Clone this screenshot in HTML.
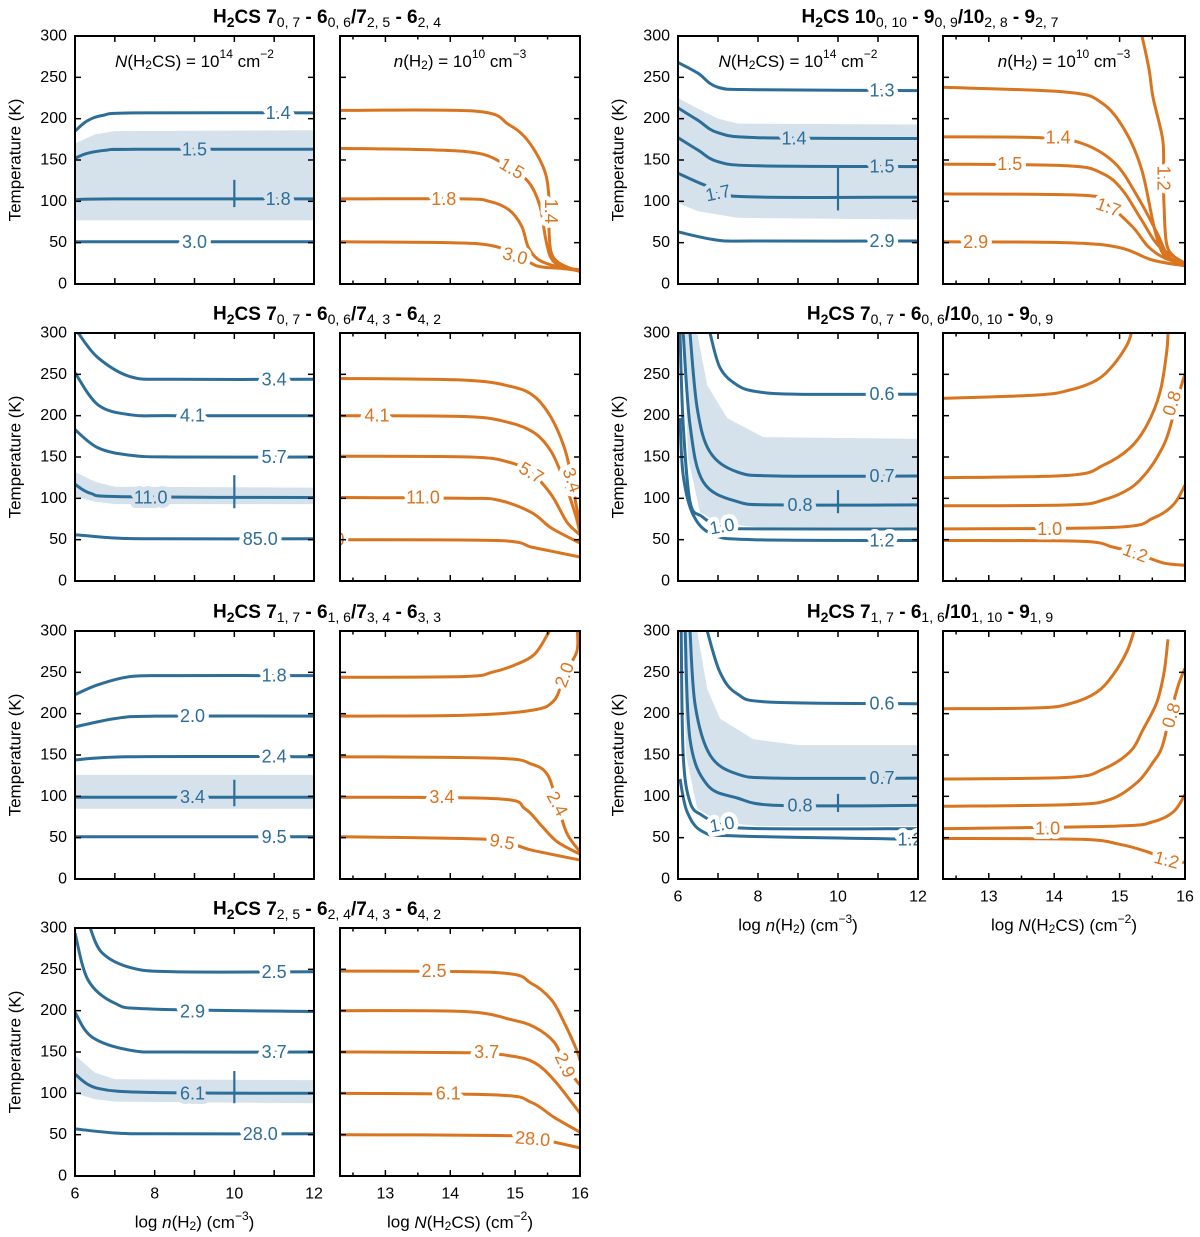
<!DOCTYPE html>
<html><head><meta charset="utf-8">
<style>
html,body{margin:0;padding:0;background:#fff;}
svg{display:block;font-family:"Liberation Sans","DejaVu Sans",sans-serif;}
</style></head>
<body>
<svg id="chart" width="1200" height="1237" viewBox="0 0 1200 1237" xmlns="http://www.w3.org/2000/svg"></svg>
<script>
const BLUE='#2d6e98', ORANGE='#d9741f', BAND='#d5e2ec';
// ---------- data (x = log n or log N, T in K) ----------
const yTicks=[0,50,100,150,200,250,300];
const nTicks=[6,8,10,12];
const NTicks=[13,14,15,16];
const titles=[
 ['7','0, 7','6','0, 6','7','2, 5','6','2, 4'],
 ['10','0, 10','9','0, 9','10','2, 8','9','2, 7'],
 ['7','0, 7','6','0, 6','7','4, 3','6','4, 2'],
 ['7','0, 7','6','0, 6','10','0, 10','9','0, 9'],
 ['7','1, 7','6','1, 6','7','3, 4','6','3, 3'],
 ['7','1, 7','6','1, 6','10','1, 10','9','1, 9'],
 ['7','2, 5','6','2, 4','7','4, 3','6','4, 2']
];
// Panel A (row1 left)
const A_blue=[
 {v:'1.4',p:[[6,185],[6.3,197],[6.7,204],[7.5,207],[12,207]],l:[11.1,207,0]},
 {v:'1.5',p:[[6,152],[6.3,158],[6.8,162],[7.5,163],[12,163]],l:[9,163,0,1]},
 {v:'1.8',p:[[6,102],[7,103],[12,103]],l:[11.1,103,0,1]},
 {v:'3.0',p:[[6,51],[12,51]],l:[9,51,0]}];
const A_band_hi=[[6,170],[6.5,181],[7,185],[12,186]];
const A_band_lo=[[6,77],[12,77]];
const A_marker=[10,93,126,103];
const A_orange=[
 {v:'1.4',p:[[12.3,210],[14.4,209],[14.9,193],[15.2,173],[15.45,138],[15.52,105],[15.52,70],[15.55,40],[15.65,27],[15.85,19],[16,15]],l:[15.55,88,90]},
 {v:'1.5',p:[[12.3,164],[13.8,162],[14.5,157],[14.9,141],[15.2,124],[15.38,95],[15.47,55],[15.55,32],[15.7,22],[16,16]],l:[14.95,140,30]},
 {v:'1.8',p:[[12.3,103],[14.2,103],[14.6,100],[14.9,90],[15.1,70],[15.2,45],[15.35,30],[15.6,22],[16,17]],l:[13.9,103,0]},
 {v:'3.0',p:[[12.3,51],[14,50],[14.6,47],[15,37],[15.33,22],[15.7,19],[16,16]],l:[15.0,34,15]}];
// Panel B (row1 right)
const B_blue=[
 {v:'1.3',p:[[6,268],[6.5,255],[7,238],[8,235],[12,234]],l:[11.1,234,0]},
 {v:'1.4',p:[[6,213],[6.5,198],[7,183],[8,177],[12,176]],l:[8.9,176,0,1]},
 {v:'1.5',p:[[6,177],[6.5,162],[7,148],[8,143],[12,142]],l:[11.1,142,0,1]},
 {v:'1.7',p:[[6,134],[6.7,119],[7.5,106],[12,105]],l:[7,110,-12,1]},
 {v:'2.9',p:[[6,63],[7,53],[8,52],[12,52]],l:[11.1,52,0]}];
const B_band_hi=[[6,225],[6.5,212],[7,200],[7.5,194],[12,193]];
const B_band_lo=[[6,98],[6.5,88],[7.5,80],[12,78]];
const B_marker=[10,89,141,105];
const B_orange=[
 {v:'1.2',p:[[15.34,301],[15.45,260],[15.51,226],[15.66,174],[15.67,130],[15.68,93],[15.72,48],[15.85,32],[16,25]],l:[15.67,128,90]},
 {v:'',p:[[12.3,238],[14.2,232],[14.73,219],[15.08,186],[15.34,138],[15.54,65],[15.7,33],[16,25]],l:null},
 {v:'1.4',p:[[12.3,178],[13.8,177],[14.43,170],[14.93,146],[15.28,105],[15.57,62],[15.75,33],[16,25]],l:[14.06,177,0]},
 {v:'1.5',p:[[12.3,145],[14.2,143],[14.73,134],[15.04,114],[15.34,77],[15.6,46],[16,25]],l:[13.32,145,0]},
 {v:'1.7',p:[[12.3,109],[14.5,107],[14.83,95],[15.2,69],[15.44,45],[15.7,31],[16,25]],l:[14.83,93,20]},
 {v:'2.9',p:[[12.3,51],[14.2,50],[15,44],[15.5,29],[16,22]],l:[12.8,51,0]}];
// Panel C (row2 left)
const C_blue=[
 {v:'3.4',p:[[6.08,300],[6.58,270],[7.4,247],[8.5,244],[12,244]],l:[11,244,0]},
 {v:'4.1',p:[[6,252],[6.58,213],[7.4,201],[8.5,200],[12,200]],l:[8.95,200,0]},
 {v:'5.7',p:[[6,183],[6.58,161],[7.4,152],[8.5,150],[12,150]],l:[11,150,0]},
 {v:'11.0',p:[[6,117],[6.4,106],[7.2,102],[12,101]],l:[7.9,101,0,1]},
 {v:'85.0',p:[[6,56],[7,52],[8,51],[12,51]],l:[10.65,51,0]}];
const C_band_hi=[[6,132],[6.5,120],[7,114],[12,113]];
const C_band_lo=[[6,102],[6.5,96],[7,93],[12,93]];
const C_marker=[10,88,128,101];
const C_orange=[
 {v:'3.4',p:[[12.3,245],[14.22,243],[14.95,235],[15.3,223],[15.56,197],[15.76,161],[15.87,125],[15.93,96],[16,71]],l:[15.88,122,70]},
 {v:'4.1',p:[[12.3,200],[14.22,199],[14.89,192],[15.3,179],[15.56,156],[15.76,120],[15.93,80],[16,58]],l:[12.87,200,0]},
 {v:'5.7',p:[[12.3,151],[14.3,150],[14.89,144],[15.25,131],[15.56,104],[15.8,71],[16,56]],l:[15.25,131,30]},
 {v:'11.0',p:[[12.3,101],[14.2,100],[14.73,98],[15.25,83],[15.56,64],[16,46]],l:[13.58,101,0]},
 {v:'85.0',p:[[12.3,50],[14.73,49],[15.25,41],[15.56,36],[16,29]],l:[12.1,50,0]}];
// Panel D (row2 right)
const D_blue=[
 {v:'0.6',p:[[6.8,300],[7.05,258],[7.48,237],[7.98,229],[9,226],[12,226]],l:[11.1,226,0]},
 {v:'0.7',p:[[6.3,300],[6.48,209],[6.8,156],[7.48,132],[8.5,127],[12,127]],l:[11.1,127,0,1]},
 {v:'0.8',p:[[6.13,300],[6.3,189],[6.63,120],[7.48,96],[8.5,92],[12,92]],l:[9.05,92,0,1]},
 {v:'1.0',p:[[6.05,300],[6.13,189],[6.3,96],[6.6,78],[7.1,65],[8,63],[12,63]],l:[7.1,66,-10]},
 {v:'1.2',p:[[6.05,197],[6.13,128],[6.38,80],[6.88,56],[7.9,50],[12,49]],l:[11.1,49,0]}];
const D_band_hi=[[6.48,300],[6.73,237],[7.23,197],[8.13,174],[12,172]];
const D_band_lo=[[6.15,300],[6.25,149],[6.55,83],[7.05,70],[8,65],[12,65]];
const D_marker=[10,82,110,92];
const D_orange=[
 {v:'',p:[[12.3,221],[13.74,225],[14.24,231],[14.65,243],[14.9,261],[15.11,285],[15.18,300]],l:null},
 {v:'0.8',p:[[12.3,125],[14.24,128],[14.75,140],[15.16,161],[15.42,189],[15.62,229],[15.72,277],[15.74,300]],l:[15.8,215,-72]},
 {v:'',p:[[12.3,91],[14.24,92],[14.75,98],[15.16,112],[15.42,132],[15.62,156],[15.75,180],[15.9,225],[16,250]],l:null},
 {v:'1.0',p:[[12.3,63],[14.95,65],[15.51,76],[15.82,92],[16,116]],l:[13.93,63,0]},
 {v:'1.2',p:[[12.3,49],[14.4,48],[14.9,41],[15.24,34],[15.66,22],[16,19]],l:[15.24,34,20]}];
// Panel E (row3 left)
const E_blue=[
 {v:'1.8',p:[[6,223],[6.58,235],[7.4,245],[8.5,246],[12,246]],l:[11,246,0]},
 {v:'2.0',p:[[6,184],[7,194],[8,197],[12,197]],l:[8.95,197,0]},
 {v:'2.4',p:[[6,144],[7.4,148],[12,148]],l:[11,148,0]},
 {v:'3.4',p:[[6,99],[12,99]],l:[8.95,99,0,1]},
 {v:'9.5',p:[[6,51],[12,51]],l:[11,51,0]}];
const E_band_hi=[[6,126],[12,126]];
const E_band_lo=[[6,85],[12,85]];
const E_marker=[10,88,120,99];
const E_orange=[
 {v:'',p:[[12.3,244],[14.22,245],[14.64,250],[15,259],[15.3,272],[15.5,296],[15.52,300]],l:null},
 {v:'2.0',p:[[12.3,197],[14.22,198],[15.25,204],[15.6,216],[15.76,247],[15.95,275],[15.96,300]],l:[15.76,247,-70]},
 {v:'2.4',p:[[12.3,148],[14.73,146],[15.25,139],[15.5,126],[15.65,91],[15.8,55],[16,33]],l:[15.65,91,62]},
 {v:'3.4',p:[[12.3,99],[14.73,97],[15.15,85],[15.4,65],[15.65,45],[16,30]],l:[13.87,99,0]},
 {v:'9.5',p:[[12.3,51],[14.2,49],[14.8,46],[15.25,35],[16,23]],l:[14.8,45,10]}];
// Panel F (row3 right)
const F_blue=[
 {v:'0.6',p:[[6.73,300],[7.05,250],[7.48,224],[8.3,214],[12,212]],l:[11.1,212,0]},
 {v:'0.7',p:[[6.3,300],[6.43,210],[6.8,150],[7.48,127],[8.5,122],[12,122]],l:[11.1,122,0,1]},
 {v:'0.8',p:[[6.18,300],[6.3,169],[6.73,114],[7.48,98],[8.5,89],[12,89]],l:[9.05,89,0,1]},
 {v:'1.0',p:[[6.08,300],[6.13,150],[6.3,93],[6.6,77],[7.1,66],[8,61],[12,61]],l:[7.1,66,-10]},
 {v:'1.2',p:[[6.05,121],[6.23,81],[6.63,57],[7.5,52],[12,48]],l:[11.8,48,0]}];
const F_band_hi=[[6.48,300],[6.73,230],[7.05,194],[7.88,169],[9,162],[12,162]];
const F_band_lo=[[6.13,300],[6.2,150],[6.48,85],[7.05,69],[8,64],[12,64]];
const F_marker=[10,81,103,89];
const F_orange=[
 {v:'',p:[[12.3,206],[13.74,207],[14.24,212],[14.65,226],[14.9,247],[15.11,275],[15.22,300]],l:null},
 {v:'',p:[[12.3,121],[14.24,123],[14.75,133],[15.16,154],[15.36,181],[15.57,214],[15.68,250],[15.74,290]],l:null},
 {v:'0.8',p:[[12.3,88],[14.24,90],[14.85,96],[15.27,117],[15.51,141],[15.65,160],[15.77,198],[15.9,235],[16,255]],l:[15.79,198,-72]},
 {v:'1.0',p:[[12.3,61],[14.95,64],[15.5,69],[15.82,81],[16,102]],l:[13.9,61,0]},
 {v:'1.2',p:[[12.3,49],[14.4,48],[15,42],[15.42,33],[15.72,24],[16,20]],l:[15.72,23,15]}];
// Panel G (row4 left)
const G_blue=[
 {v:'2.5',p:[[6.38,300],[6.68,270],[7.4,252],[8.5,247],[12,247]],l:[11,247,0]},
 {v:'2.9',p:[[6,294],[6.33,237],[7,209],[7.9,202],[12,199]],l:[8.95,199,0]},
 {v:'3.7',p:[[6,198],[6.43,168],[7.4,152],[8.5,150],[12,150]],l:[11,150,0]},
 {v:'6.1',p:[[6,123],[6.58,106],[8,101],[12,100]],l:[8.95,100,0,1]},
 {v:'28.0',p:[[6,57],[7,52],[8,51],[12,51]],l:[10.65,51,0]}];
const G_band_hi=[[6,146],[6.5,125],[7,117],[12,116]];
const G_band_lo=[[6,100],[6.5,93],[7,90],[12,88]];
const G_marker=[10,88,127,100];
const G_orange=[
 {v:'2.5',p:[[12.3,248],[14.73,246],[15.25,233],[15.56,213],[15.76,185],[15.95,152],[16,140]],l:[13.75,248,0]},
 {v:'2.9',p:[[12.3,200],[14.22,199],[14.95,189],[15.3,180],[15.6,162],[15.76,137],[15.92,118],[16,110]],l:[15.77,134,65]},
 {v:'3.7',p:[[12.3,150],[14.3,149],[14.95,145],[15.3,137],[15.6,116],[16,76]],l:[14.56,150,0]},
 {v:'6.1',p:[[12.3,100],[14.73,98],[15.25,89],[15.6,71],[16,53]],l:[13.97,100,0]},
 {v:'28.0',p:[[12.3,50],[14.73,49],[15.27,46],[16,34]],l:[15.27,45,5]}];

// ---------- layout ----------
const svg=document.getElementById('chart');
const NS='http://www.w3.org/2000/svg';
function el(tag,attrs,parent){const e=document.createElementNS(NS,tag);for(const k in attrs)e.setAttribute(k,attrs[k]);(parent||svg).appendChild(e);return e;}
const rowsY=[36,333,631,928], H=248;
const colL={bx:75,bw:239,ox:340,ow:240,cx:327};
const colR={bx:678,bw:240,ox:943,ow:242,cx:930};
let clipId=0;
function smooth(pts){
  if(pts.length<3)return 'M'+pts.map(p=>p[0].toFixed(1)+','+p[1].toFixed(1)).join('L');
  let d='M'+pts[0][0].toFixed(1)+','+pts[0][1].toFixed(1);
  for(let i=0;i<pts.length-1;i++){
    const p0=pts[i-1]||pts[i],p1=pts[i],p2=pts[i+1],p3=pts[i+2]||p2;
    const c1=[p1[0]+(p2[0]-p0[0])/6,p1[1]+(p2[1]-p0[1])/6];
    const c2=[p2[0]-(p3[0]-p1[0])/6,p2[1]-(p3[1]-p1[1])/6];
    d+='C'+c1[0].toFixed(1)+','+c1[1].toFixed(1)+' '+c2[0].toFixed(1)+','+c2[1].toFixed(1)+' '+p2[0].toFixed(1)+','+p2[1].toFixed(1);
  }
  return d;
}
function panel(x0,y0,w,dom,lines,color,kind,opts){
  const g=el('g',{});
  
  
  const sx=v=>x0+(v-dom[0])/(dom[1]-dom[0])*w;
  const sy=t=>y0+H-t/300*H;
  const id='c'+(clipId++);
  const cp=el('clipPath',{id:id},g);el('rect',{x:x0,y:y0,width:w,height:H},cp);
  const inner=el('g',{'clip-path':'url(#'+id+')'},g);
  if(opts.hi){
    const poly=opts.hi.map(p=>[sx(p[0]),sy(p[1])]).concat(opts.lo.slice().reverse().map(p=>[sx(p[0]),sy(p[1])]));
    const b=el('polygon',{points:poly.map(p=>p.join(',')).join(' '),fill:BAND,stroke:'none'},inner);
    
    
  }
  lines.forEach(L=>{
    const path=el('path',{d:smooth(L.p.map(p=>[sx(p[0]),sy(p[1])])),fill:'none',stroke:color,'stroke-width':3,'stroke-linejoin':'round'},inner);
    
    
  });
  if(opts.m){
    const m=opts.m;
    const t1=el('line',{x1:sx(m[0]),x2:sx(m[0]),y1:sy(m[1]),y2:sy(m[2]),stroke:color,'stroke-width':2.2},inner);
    
    
  }
  lines.forEach(L=>{
    if(!L.l)return;
    const X=sx(L.l[0]),Y=sy(L.l[1]);
    const t=el('text',{x:X,y:Y,'text-anchor':'middle','dominant-baseline':'central','font-size':18,fill:color,stroke:L.l[3]?BAND:'#fff','stroke-width':9,'paint-order':'stroke','stroke-linejoin':'round',transform:'rotate('+L.l[2]+' '+X+' '+Y+')'},inner);
    t.textContent=L.v;
    
    
  });
  const fr=el('rect',{x:x0,y:y0,width:w,height:H,fill:'none',stroke:'#000','stroke-width':2},g);
  
  
  const tk=el('g',{stroke:'#000','stroke-width':1.5},g);
  yTicks.forEach(t=>{
    if(t===0||t===300)return;
    el('line',{x1:x0,x2:x0+6,y1:sy(t),y2:sy(t)},tk);
    el('line',{x1:x0+w,x2:x0+w-6,y1:sy(t),y2:sy(t)},tk);
  });
  const xt=[];
  if(kind==='blue'){for(let v=7;v<=11;v++)xt.push([v,6]);}
  else{for(let v=12.5;v<16;v+=0.5)xt.push([v,Number.isInteger(v)?6:3.5]);}
  xt.forEach(([v,len])=>{
    el('line',{x1:sx(v),x2:sx(v),y1:y0+H,y2:y0+H-len},tk);
    el('line',{x1:sx(v),x2:sx(v),y1:y0,y2:y0+len},tk);
  });
  if(kind==='blue'){
    yTicks.forEach(t=>{
      const tx=el('text',{x:x0-8,y:sy(t),'text-anchor':'end','dominant-baseline':'central','font-size':16},g);
      tx.textContent=t;
      
      
    });
    const yl=el('text',{x:x0-60,y:y0+H/2,'text-anchor':'middle','dominant-baseline':'central','font-size':17,transform:'rotate(-90 '+(x0-60)+' '+(y0+H/2)+')'},g);
    yl.textContent='Temperature (K)';
    
    
  }
  if(opts.bottom){
    (kind==='blue'?nTicks:NTicks).forEach(v=>{
      const tx=el('text',{x:sx(v),y:y0+H+18,'text-anchor':'middle','font-size':16,'dominant-baseline':'central'},g);
      tx.textContent=v;
      
      
    });
    const xl=el('text',{x:x0+w/2,y:y0+H+46,'text-anchor':'middle','font-size':17,'dominant-baseline':'central'},g);
    xl.innerHTML=kind==='blue'?'log <tspan font-style="italic">n</tspan>(H<tspan font-size="12" dy="4">2</tspan><tspan dy="-4">) (cm</tspan><tspan font-size="12" dy="-6">−3</tspan><tspan dy="6">)</tspan>'
      :'log <tspan font-style="italic">N</tspan>(H<tspan font-size="12" dy="4">2</tspan><tspan dy="-4">CS) (cm</tspan><tspan font-size="12" dy="-6">−2</tspan><tspan dy="6">)</tspan>';
    
    
  }
  if(opts.note){
    const nt=el('text',{x:x0+w/2,y:y0+25,'text-anchor':'middle','font-size':17,'dominant-baseline':'central'},g);
    nt.innerHTML=opts.note;
    
    
  }
}
function title(cx,y,t){
  const tt=el('text',{x:cx,y:y,'text-anchor':'middle','font-size':19,'font-weight':'bold','dominant-baseline':'central'});
  const sub=s=>'<tspan font-size="14" font-weight="normal" dy="5">'+s+'</tspan><tspan dy="-5">';
  tt.innerHTML='H<tspan font-size="14" dy="5">2</tspan><tspan dy="-5">CS '+t[0]+'</tspan>'+sub(t[1])+' - '+t[2]+'</tspan>'+sub(t[3])+'/'+t[4]+'</tspan>'+sub(t[5])+' - '+t[6]+'</tspan>'+sub(t[7])+'</tspan>';
  
  
}
const noteN='<tspan font-style="italic">N</tspan>(H<tspan font-size="12" dy="4">2</tspan><tspan dy="-4">CS) = 10</tspan><tspan font-size="12" dy="-7">14</tspan><tspan dy="7"> cm</tspan><tspan font-size="12" dy="-7">−2</tspan>';
const noten='<tspan font-style="italic">n</tspan>(H<tspan font-size="12" dy="4">2</tspan><tspan dy="-4">) = 10</tspan><tspan font-size="12" dy="-7">10</tspan><tspan dy="7"> cm</tspan><tspan font-size="12" dy="-7">−3</tspan>';
const BD=[6,12], OD=[12.3,16];
const specs=[
 [colL,0,A_blue,A_band_hi,A_band_lo,A_marker,A_orange,titles[0],true,false],
 [colR,0,B_blue,B_band_hi,B_band_lo,B_marker,B_orange,titles[1],true,false],
 [colL,1,C_blue,C_band_hi,C_band_lo,C_marker,C_orange,titles[2],false,false],
 [colR,1,D_blue,D_band_hi,D_band_lo,D_marker,D_orange,titles[3],false,false],
 [colL,2,E_blue,E_band_hi,E_band_lo,E_marker,E_orange,titles[4],false,false],
 [colR,2,F_blue,F_band_hi,F_band_lo,F_marker,F_orange,titles[5],false,true],
 [colL,3,G_blue,G_band_hi,G_band_lo,G_marker,G_orange,titles[6],false,true]
];
specs.forEach(s=>{
  const [c,r,bl,hi,lo,m,or,t,note,bottom]=s;
  const y0=rowsY[r];
  title(c.cx,y0-19,t);
  panel(c.bx,y0,c.bw,BD,bl,BLUE,'blue',{hi:hi,lo:lo,m:m,bottom:bottom,note:note?noteN:null});
  panel(c.ox,y0,c.ow,OD,or,ORANGE,'orange',{bottom:bottom,note:note?noten:null});
});
</script>
</body></html>
